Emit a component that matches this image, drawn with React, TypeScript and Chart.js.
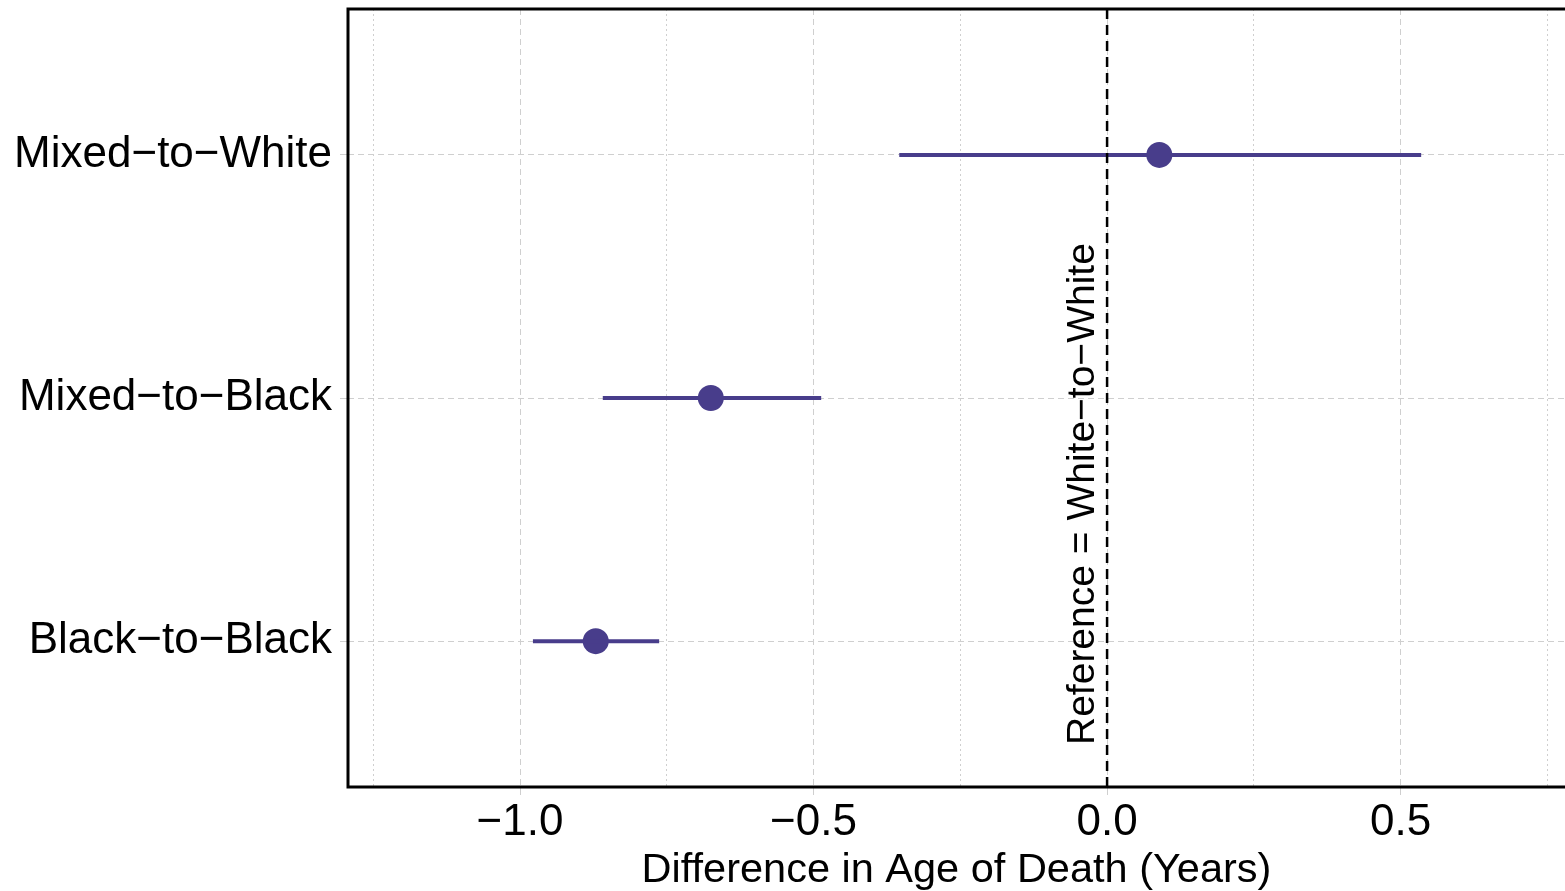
import React, { useEffect, useRef } from "react";
import { Chart, registerables } from "chart.js";

Chart.register(...registerables);

// Categories from bottom to top
const categories = ["Black\u2212to\u2212Black", "Mixed\u2212to\u2212Black", "Mixed\u2212to\u2212White"];
const estimates = [-0.871, -0.675, 0.089];
const lowerCI = [-0.978, -0.859, -0.354];
const upperCI = [-0.763, -0.487, 0.535];
const xTickValues = [-1.25, -1.0, -0.75, -0.5, -0.25, 0.0, 0.25, 0.5, 0.75];
const xMajorTicks = [-1.0, -0.5, 0.0, 0.5];
const referenceValue = 0;
const referenceLabel = "Reference = White\u2212to\u2212White";
const xTitle = "Difference in Age of Death (Years)";

const COLOR = "#483D8B";
const FONT = "'Liberation Sans', Arial, Helvetica, sans-serif";

const isMajor = (v: number) => xMajorTicks.some((m) => Math.abs(m - v) < 1e-9);
const fmt = (v: number) => (v < 0 ? "\u2212" : "") + Math.abs(v).toFixed(1);

const framePlugin = {
  id: "framePlugin",
  afterDatasetsDraw(chart: any) {
    const { ctx, chartArea } = chart;
    const xs = chart.scales.x;
    const px = xs.getPixelForValue(referenceValue);
    ctx.save();
    ctx.strokeStyle = "#000";
    ctx.lineWidth = 2.5;
    ctx.setLineDash([10, 6]);
    ctx.beginPath();
    ctx.moveTo(px, chartArea.top);
    ctx.lineTo(px, chartArea.bottom);
    ctx.stroke();
    ctx.setLineDash([]);
    ctx.translate(px - 13, chartArea.bottom - 42);
    ctx.rotate(-Math.PI / 2);
    ctx.fillStyle = "#000";
    ctx.font = `39px ${FONT}`;
    ctx.textAlign = "left";
    ctx.textBaseline = "alphabetic";
    ctx.fillText(referenceLabel, 0, 0);
    ctx.restore();
  },
  afterDraw(chart: any) {
    const { ctx, chartArea } = chart;
    ctx.save();
    ctx.strokeStyle = "#000";
    ctx.lineWidth = 3;
    ctx.beginPath();
    ctx.moveTo(chart.width, chartArea.top);
    ctx.lineTo(chartArea.left, chartArea.top);
    ctx.lineTo(chartArea.left, chartArea.bottom);
    ctx.lineTo(chart.width, chartArea.bottom);
    ctx.stroke();
    ctx.restore();
  },
};

export default function App() {
  const ref = useRef<HTMLCanvasElement>(null);
  useEffect(() => {
    if (!ref.current) return;
    const ciSets = categories.map((c, i) => ({
      label: c + " CI",
      data: [
        { x: lowerCI[i], y: i + 1 },
        { x: upperCI[i], y: i + 1 },
      ],
      showLine: true,
      borderColor: COLOR,
      borderWidth: 4,
      borderCapStyle: "butt",
      pointRadius: 0,
      pointHoverRadius: 0,
    }));
    const pointSet = {
      label: "Estimate",
      data: estimates.map((v, i) => ({ x: v, y: i + 1 })),
      backgroundColor: COLOR,
      borderWidth: 0,
      pointRadius: 13,
      pointHoverRadius: 13,
    };
    const chart = new Chart(ref.current, {
      type: "scatter",
      data: { datasets: [...ciSets, pointSet] as any },
      plugins: [framePlugin],
      options: {
        animation: false,
        responsive: false,
        events: [],
        layout: { autoPadding: false, padding: { top: 9, right: 0, left: 0, bottom: 0 } },
        plugins: { legend: { display: false }, tooltip: { enabled: false } },
        scales: {
          x: {
            type: "linear",
            min: -1.293,
            max: 0.78,
            afterBuildTicks: (s: any) => {
              s.ticks = xTickValues.map((v) => ({ value: v }));
            },
            afterFit: (s: any) => {
              s.height = 104;
              s.paddingLeft = 0;
              s.paddingRight = 0;
            },
            ticks: {
              autoSkip: false,
              maxRotation: 0,
              padding: 1,
              color: "#000",
              font: { family: FONT, size: 44 },
              callback: (v: any) => (isMajor(Number(v)) ? fmt(Number(v)) : ""),
            },
            grid: {
              color: "#cfcfcf",
              lineWidth: 1,
              tickLength: 8,
              tickColor: (c: any) => (c.tick && isMajor(c.tick.value) ? "#cfcfcf" : "rgba(0,0,0,0)"),
            },
            border: {
              display: false,
              dash: (c: any) => (c.tick && isMajor(c.tick.value) ? [6, 4] : [2, 3]),
            },
            title: {
              display: true,
              text: xTitle,
              color: "#000",
              font: { family: FONT, size: 41.5, lineHeight: 1.0 },
              padding: { top: 0, bottom: 0 },
            },
          },
          y: {
            type: "linear",
            min: 0.4,
            max: 3.6,
            afterBuildTicks: (s: any) => {
              s.ticks = categories.map((_, i) => ({ value: i + 1 }));
            },
            afterFit: (s: any) => {
              s.width = 348;
              s.paddingTop = 0;
              s.paddingBottom = 0;
            },
            ticks: {
              autoSkip: false,
              padding: 8,
              color: "#000",
              font: { family: FONT, size: 44 },
              callback: (v: any) => categories[Math.round(Number(v)) - 1] ?? "",
            },
            grid: {
              color: "#cfcfcf",
              lineWidth: 1,
              tickLength: 8,
              tickColor: "#cfcfcf",
            },
            border: { display: false, dash: [6, 4] },
          },
        },
      } as any,
    });
    return () => chart.destroy();
  }, []);
  return (
    <div style={{ position: "fixed", left: 0, top: 0, width: 1565, height: 891, background: "#fff" }}>
      <canvas ref={ref} width={1565} height={891} style={{ display: "block" }} />
    </div>
  );
}
